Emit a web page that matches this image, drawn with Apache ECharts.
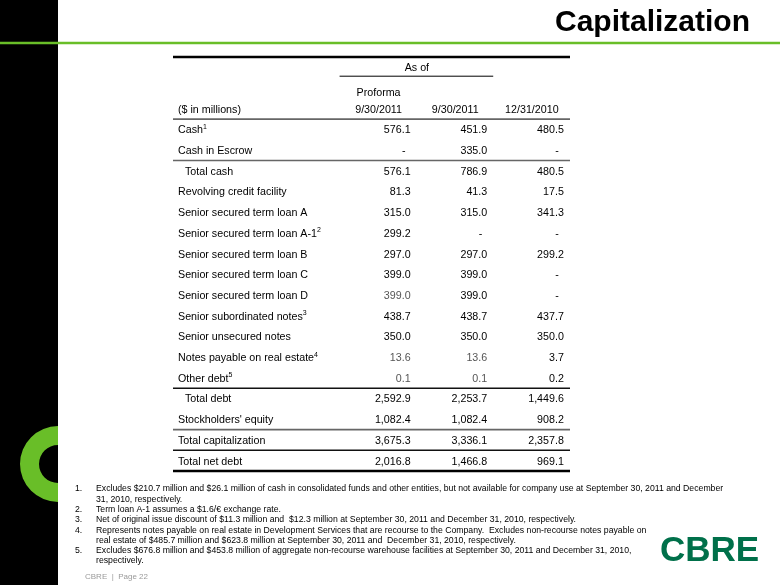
<!DOCTYPE html>
<html><head><meta charset="utf-8">
<script src="https://cdn.jsdelivr.net/npm/echarts@6/dist/echarts.min.js"></script>
<style>html,body{margin:0;padding:0;background:#fff}#c{width:780px;height:585px}</style>
</head><body><div id="c"></div>
<script>
// ---------- data ----------
const titleText = 'Capitalization';
const groupHeader = 'As of';
const unitLabel = '($ in millions)';
const columnHeaders = ['Proforma\n9/30/2011', '9/30/2011', '12/31/2010'];
const rowLabels = ['Cash', 'Cash in Escrow', 'Total cash', 'Revolving credit facility',
  'Senior secured term loan A', 'Senior secured term loan A-1', 'Senior secured term loan B',
  'Senior secured term loan C', 'Senior secured term loan D', 'Senior subordinated notes',
  'Senior unsecured notes', 'Notes payable on real estate', 'Other debt', 'Total debt',
  "Stockholders' equity", 'Total capitalization', 'Total net debt'];
const rowNoteRefs = ['1', '', '', '', '', '2', '', '', '', '3', '', '4', '5', '', '', '', ''];
const subtotalRows = ['Total cash', 'Total debt'];
const proforma2011 = [576.1, null, 576.1, 81.3, 315.0, 299.2, 297.0, 399.0, 399.0, 438.7, 350.0, 13.6, 0.1, 2592.9, 1082.4, 3675.3, 2016.8];
const sep2011 = [451.9, 335.0, 786.9, 41.3, 315.0, null, 297.0, 399.0, 399.0, 438.7, 350.0, 13.6, 0.1, 2253.7, 1082.4, 3336.1, 1466.8];
const dec2010 = [480.5, null, 480.5, 17.5, 341.3, null, 299.2, null, null, 437.7, 350.0, 3.7, 0.2, 1449.6, 908.2, 2357.8, 969.1];
const footnotes = [
  ['Excludes $210.7 million and $26.1 million of cash in consolidated funds and other entities, but not available for company use at September 30, 2011 and December', '31, 2010, respectively.'],
  ['Term loan A-1 assumes a $1.6/\u20ac exchange rate.'],
  ['Net of original issue discount of $11.3 million and  $12.3 million at September 30, 2011 and December 31, 2010, respectively.'],
  ['Represents notes payable on real estate in Development Services that are recourse to the Company.  Excludes non-recourse notes payable on', 'real estate of $485.7 million and $623.8 million at September 30, 2011 and  December 31, 2010, respectively.'],
  ['Excludes $676.8 million and $453.8 million of aggregate non-recourse warehouse facilities at September 30, 2011 and December 31, 2010,', 'respectively.']
];
const pageLabel = 'CBRE  |  Page 22';
const logoText = 'CBRE';

// ---------- layout / style ----------
const FF = '"Liberation Sans", Arial, Helvetica, sans-serif';
const FS = 10.7;
const GREEN = '#69be28';
const headerRowCount = 3;
const allRows = ['h0', 'h1', unitLabel].concat(rowLabels);
const series3 = [proforma2011, sep2011, dec2010];
const grayCells = {'1-8': '#555', '1-11': '#555', '2-11': '#555', '1-12': '#555', '2-12': '#555'};

const cells = [];
series3.forEach((arr, c) => arr.forEach((v, r) => cells.push({col: c + 1, row: r + headerRowCount, v: v, key: (c + 1) + '-' + r})));

const ruleStyle = {
  heavy: {stroke: '#000', lineWidth: 2.5},
  dark: {stroke: '#111', lineWidth: 1.6},
  mid: {stroke: '#666', lineWidth: 1.6}
};
const rules = [
  {row: 0, side: -1, kind: 'heavy'},
  {row: 2, side: 1, kind: 'mid'},
  {row: 4, side: 1, kind: 'mid'},
  {row: 15, side: 1, kind: 'dark'},
  {row: 17, side: 1, kind: 'mid'},
  {row: 18, side: 1, kind: 'dark'},
  {row: 19, side: 1, kind: 'heavy'}
];

function fmt(v) {
  return v.toLocaleString('en-US', {minimumFractionDigits: 1, maximumFractionDigits: 1});
}

const chart = echarts.init(document.getElementById('c'), null, {renderer: 'canvas'});

const FN = 8.7;
const footGraphics = [];
let fy = 489;
footnotes.forEach((lines, i) => {
  footGraphics.push({type: 'text', x: 75, y: fy, style: {text: (i + 1) + '.', fontSize: FN, fontFamily: FF, fill: '#000', verticalAlign: 'middle'}});
  lines.forEach(line => {
    footGraphics.push({type: 'text', x: 96, y: fy, style: {text: line, fontSize: FN, fontFamily: FF, fill: '#000', verticalAlign: 'middle'}});
    fy += 10.3;
  });
});

chart.setOption({
  animation: false,
  backgroundColor: '#fff',
  grid: {left: 173, right: 210, top: 57, bottom: 114, containLabel: false},
  xAxis: {type: 'value', min: -2.1, max: 3.08, show: false},
  yAxis: {
    type: 'category', inverse: true, data: allRows,
    axisLine: {show: false}, axisTick: {show: false}, splitLine: {show: false},
    axisLabel: {
      inside: true, margin: 5, align: 'left', fontSize: FS, fontFamily: FF, color: '#000',
      formatter: function (v, i) {
        if (i < 2) return '';
        if (i === 2) return '{t|' + v + '}';
        const k = i - headerRowCount;
        const ind = subtotalRows.indexOf(v) >= 0 ? '{ind|}' : '';
        return ind + '{t|' + v + '}' + (rowNoteRefs[k] ? '{sup|' + rowNoteRefs[k] + '}' : '');
      },
      rich: {
        t: {fontSize: FS, fontFamily: FF, color: '#000', padding: [2, 0, 0, 0]},
        sup: {fontSize: 7, fontFamily: FF, color: '#000', padding: [0, 0, 5, 0]},
        ind: {width: 7}
      }
    }
  },
  graphic: [
    {type: 'rect', z: 0, shape: {x: 0, y: 0, width: 58, height: 585}, style: {fill: '#000'}},
    {type: 'sector', z: 1, shape: {cx: 58, cy: 464, r: 38, r0: 19, startAngle: Math.PI / 2, endAngle: Math.PI * 3 / 2}, style: {fill: GREEN}},
    {type: 'line', z: 2, shape: {x1: 0, y1: 43, x2: 780, y2: 43}, style: {stroke: GREEN, lineWidth: 2.5}},
    {type: 'text', z: 2, x: 750, y: 23, style: {text: titleText, fontSize: 30, fontWeight: 'bold', fontFamily: FF, fill: '#000', align: 'right', verticalAlign: 'middle'}},
    {type: 'text', z: 2, x: 660, y: 551, style: {text: logoText, fontSize: 35, fontWeight: 'bold', fontFamily: FF, fill: '#00704a', verticalAlign: 'middle'}},
    {type: 'text', z: 2, x: 85, y: 577, style: {text: pageLabel, fontSize: 8, fontFamily: FF, fill: '#9a9a9a', verticalAlign: 'middle'}}
  ].concat(footGraphics),
  series: [
    {
      type: 'custom', name: 'rules', data: rules.map(r => [0, r.row]), z: 3,
      renderItem: function (params, api) {
        const r = rules[params.dataIndex];
        const p = api.coord([0, r.row]);
        const h = api.size([0, 1])[1];
        const y = p[1] + r.side * h / 2;
        const cs = params.coordSys;
        return {type: 'line', shape: {x1: cs.x, y1: y, x2: cs.x + cs.width, y2: y}, style: ruleStyle[r.kind]};
      }
    },
    {
      type: 'custom', name: 'headers', data: columnHeaders.map((h, i) => [i + 1, 2]), z: 3,
      renderItem: function (params, api) {
        const i = params.dataIndex;
        const p = api.coord([i + 1, 2]);
        const h = api.size([0, 1])[1];
        const children = [{
          type: 'text', x: p[0] - 32, y: p[1] + h / 2 - 1,
          style: {text: columnHeaders[i], fontSize: FS, fontFamily: FF, fill: '#000', align: 'center', verticalAlign: 'bottom', lineHeight: 17}
        }];
        if (i === 0) {
          const p1 = api.coord([1, 0]);
          const p2 = api.coord([2, 0]);
          children.push({type: 'text', x: (p1[0] + p2[0]) / 2 - 32, y: p1[1] + 1,
            style: {text: groupHeader, fontSize: FS, fontFamily: FF, fill: '#000', align: 'center', verticalAlign: 'middle'}});
          children.push({type: 'line', shape: {x1: p1[0] - 71, y1: p1[1] + h / 2 - 1.5, x2: p2[0] + 6, y2: p1[1] + h / 2 - 1.5},
            style: {stroke: '#000', lineWidth: 1}});
        }
        return {type: 'group', children: children};
      }
    },
    {
      type: 'custom', name: 'cells', data: cells.map(c => [c.col, c.row]), z: 3,
      renderItem: function (params, api) {
        const c = cells[params.dataIndex];
        const p = api.coord([c.col, c.row]);
        const dash = c.v == null;
        return {
          type: 'text', x: p[0] - (dash ? 5 : 0), y: p[1] + 1,
          style: {text: dash ? '-' : fmt(c.v), fontSize: FS, fontFamily: FF, fill: grayCells[c.key] || '#000', align: 'right', verticalAlign: 'middle'}
        };
      }
    }
  ]
});
</script>
</body></html>
